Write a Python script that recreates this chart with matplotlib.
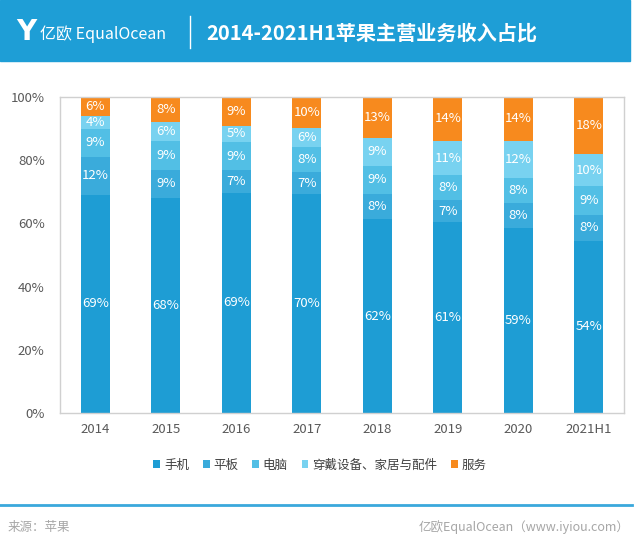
import numpy as np
import matplotlib
matplotlib.use("Agg")
import matplotlib.pyplot as plt
from matplotlib.patches import Rectangle
from matplotlib.lines import Line2D

plt.rcParams["font.family"] = ["Noto Sans CJK SC", "DejaVu Sans"]

years = ["2014", "2015", "2016", "2017", "2018", "2019", "2020", "2021H1"]
series_names = ["手机", "平板", "电脑", "穿戴设备、家居与配件", "服务"]
phone = [69, 68, 69, 70, 62, 61, 59, 54]
tablet = [12, 9, 7, 7, 8, 7, 8, 8]
computer = [9, 9, 9, 8, 9, 8, 8, 9]
wearables = [4, 6, 5, 6, 9, 11, 12, 10]
services = [6, 8, 9, 10, 13, 14, 14, 18]
colors = ["#1E9DD4", "#3AABDB", "#52BFE5", "#78D2F0", "#F78A1E"]

W, H = 640, 546
fig = plt.figure(figsize=(W / 100, H / 100), dpi=100)

# header band
fig.patches.append(Rectangle((0, 1 - 61 / H), 630 / W, 61 / H,
                             transform=fig.transFigure, color="#1E9ED6", zorder=0))
fig.text(16 / W, 1 - 32 / H, "Y", color="white", fontsize=20, fontweight="bold",
         va="center", ha="left", family=["DejaVu Sans"])
fig.text(40 / W, 1 - 34 / H, "亿欧 EqualOcean", color="white", fontsize=11.5,
         va="center", ha="left")
fig.add_artist(Line2D([190 / W, 190 / W], [1 - 16 / H, 1 - 48 / H],
                      transform=fig.transFigure, color="white", lw=1))
fig.text(206 / W, 1 - 33 / H, "2014-2021H1苹果主营业务收入占比", color="white",
         fontsize=14.5, fontweight="bold", va="center", ha="left")

# footer
fig.add_artist(Line2D([0, 632 / W], [1 - 505 / H, 1 - 505 / H],
                      transform=fig.transFigure, color="#3AA8DC", lw=2))
fig.text(8 / W, 1 - 527 / H, "来源：苹果", color="#A6A6A6", fontsize=9,
         va="center", ha="left")
fig.text(630 / W, 1 - 527 / H, "亿欧EqualOcean（www.iyiou.com）", color="#A6A6A6",
         fontsize=9, va="center", ha="right")

# chart
ax = fig.add_axes([60 / W, 1 - 413 / H, 564 / W, 316 / H])
data = np.array([phone, tablet, computer, wearables, services], dtype=float)
shares = data / data.sum(axis=0)
x = np.arange(len(years))
bottom = np.zeros(len(years))
for i, name in enumerate(series_names):
    ax.bar(x, shares[i], 0.41, bottom=bottom, color=colors[i], label=name, zorder=2)
    for j in range(len(years)):
        ax.text(x[j], bottom[j] + shares[i][j] / 2, f"{int(data[i][j])}%",
                ha="center", va="center", color="white", fontsize=9.5, zorder=3)
    bottom += shares[i]

ax.set_xlim(-0.5, len(years) - 0.5)
ax.set_ylim(0, 1)
ax.set_xticks(x)
ax.set_xticklabels(years)
ax.set_yticks(np.linspace(0, 1, 6))
ax.set_yticklabels([f"{v}%" for v in range(0, 101, 20)])
ax.tick_params(length=0, colors="#595959", labelsize=9.5)
ax.tick_params(axis="x", pad=7)
ax.tick_params(axis="y", pad=11)
for s in ax.spines.values():
    s.set_color("#D0D0D0")
    s.set_linewidth(1)

ax.legend(loc="center", bbox_to_anchor=(320 / W, 1 - 465 / H),
          bbox_transform=fig.transFigure, ncol=5, frameon=False,
          handlelength=0.55, handleheight=0.55, handletextpad=0.3,
          columnspacing=1.1, fontsize=9, labelcolor="#404040")

fig.savefig("out.png", dpi=100)
